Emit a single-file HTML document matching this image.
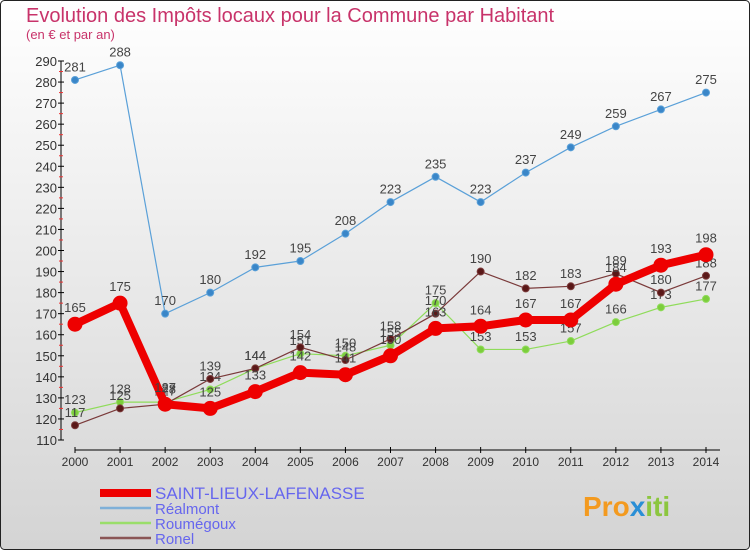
<!DOCTYPE html>
<html><head><meta charset="utf-8"><style>
body{margin:0}
#c{width:750px;height:550px;position:relative;font-family:"Liberation Sans",sans-serif;}
</style></head><body>
<div id="c">
<svg width="750" height="550" id="svg">
<defs><linearGradient id="bg" x1="0" y1="0" x2="0" y2="1"><stop offset="0" stop-color="#ffffff"/><stop offset="1" stop-color="#d4d4d4"/></linearGradient></defs>
<rect x="0.5" y="0.5" width="749" height="549" rx="4" fill="url(#bg)" stroke="#222"/>
<text x="26" y="22" font-size="20" fill="#c8336a">Evolution des Impôts locaux pour la Commune par Habitant</text>
<text x="26" y="39" font-size="13" fill="#c8336a">(en € et par an)</text>
<g id="axes"></g><g id="series"></g><g id="legend"></g>
<text x="583" y="516" font-size="28" font-weight="bold" fill="#f39a1f">Pro<tspan fill="#2a8fd6">x</tspan><tspan fill="#8cc63f">iti</tspan></text>
</svg></div>
<script>
const years=[2000,2001,2002,2003,2004,2005,2006,2007,2008,2009,2010,2011,2012,2013,2014];
const saintLieux=[165,175,127,125,133,142,141,150,163,164,167,167,184,193,198];
const realmont=[281,288,170,180,192,195,208,223,235,223,237,249,259,267,275];
const roumegoux=[123,128,128,134,144,151,150,155,175,153,153,157,166,173,177];
const ronel=[117,125,127,139,144,154,148,158,170,190,182,183,189,180,188];
const yTicks=[110,120,130,140,150,160,170,180,190,200,210,220,230,240,250,260,270,280,290];
const NS="http://www.w3.org/2000/svg";
const x=i=>75+i*(706-75)/14;
const y=v=>440-(v-110)*(440-61)/180;
function mk(t,a,p){const e=document.createElementNS(NS,t);for(const k in a)e.setAttribute(k,a[k]);(p||document.getElementById('series')).appendChild(e);return e;}
const ax=document.getElementById('axes');
let e=mk('line',{x1:61,y1:61,x2:61,y2:440,stroke:'#000'},ax);

yTicks.forEach(v=>{
 mk('line',{x1:58,x2:64,y1:y(v),y2:y(v),stroke:'#000'},ax);
 if(v<290)mk('line',{x1:59,x2:63,y1:y(v+5),y2:y(v+5),stroke:'#e33'},ax);
 const t=mk('text',{x:57,y:y(v)+5,'font-size':13,fill:'#333','text-anchor':'end'},ax);t.textContent=v;
 
});
e=mk('line',{x1:75,y1:450,x2:720,y2:450,stroke:'#000'},ax);

years.forEach((yr,i)=>{
 mk('line',{x1:x(i),x2:x(i),y1:447,y2:453,stroke:'#000'},ax);
 const t=mk('text',{x:x(i),y:466,'font-size':12,fill:'#333','text-anchor':'middle'},ax);t.textContent=yr;
 
});
function series(name,data,color,w,r,dot){
 const g=mk('g',{});
 
 const p=mk('polyline',{points:data.map((v,i)=>x(i)+','+y(v)).join(' '),fill:'none',stroke:color,'stroke-width':w,'stroke-linejoin':'round'},g);
 
 data.forEach((v,i)=>{
  const c=mk('circle',{cx:x(i),cy:y(v),r:r,fill:dot,stroke:color,'stroke-width':1},g);
  
  const t=mk('text',{x:x(i),y:y(v)-r-5,'font-size':13,fill:'#444','text-anchor':'middle'},g);t.textContent=v;
  
 });
}
series('realmont',realmont,'#5aa0d8',1.2,3.5,'#3a86c8');
series('roumegoux',roumegoux,'#8fdc5a',1.2,3.5,'#7ccd3c');
series('ronel',ronel,'#7a3a3a',1.2,3.5,'#5a1818');
series('saint-lieux',saintLieux,'#ee0000',8,7,'#ee0000');
const lg=document.getElementById('legend');
const items=[['SAINT-LIEUX-LAFENASSE','#ee0000',8,17,493],['Réalmont','#7fb0d8',2.5,15,508],['Roumégoux','#9ade6a',2.5,15,523],['Ronel','#8a5555',2.5,15,538]];
items.forEach(it=>{
 const g=mk('g',{},lg);
 
 mk('line',{x1:100,x2:151,y1:it[4],y2:it[4],stroke:it[1],'stroke-width':it[2]},g);
 const t=mk('text',{x:155,y:it[4]+6,'font-size':it[3],fill:'#6666ee'},g);t.textContent=it[0];
});
</script></body></html>
